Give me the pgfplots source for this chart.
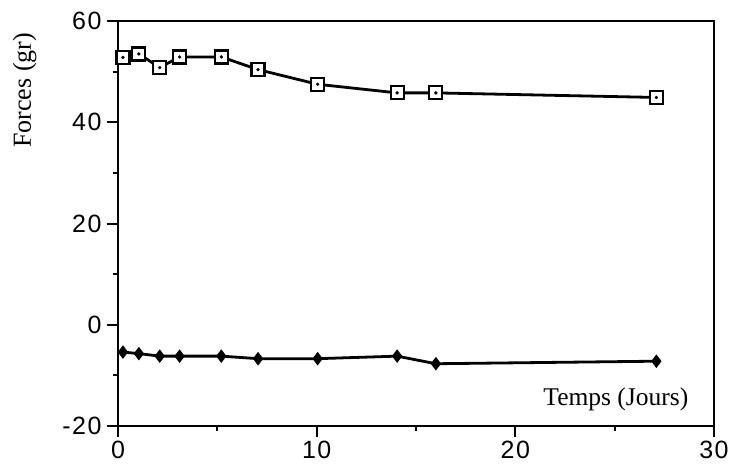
\documentclass[border=0pt]{standalone}
\usepackage{fontspec}
\setmainfont{Liberation Serif}
\newfontfamily\tickfont[LetterSpace=6]{Liberation Sans}
\usepackage{pgfplots}
\pgfplotsset{compat=1.18}
\begin{document}
\begin{tikzpicture}
\useasboundingbox (-118pt,-48pt) rectangle (615pt,426pt);
\begin{axis}[
  scale only axis,
  width=596pt, height=405pt,
  xmin=0, xmax=30, ymin=-20, ymax=60,
  xtick={0,10,20,30}, minor xtick={5,15,25},
  ytick={-20,0,20,40,60}, minor ytick={-10,10,30,50},
  tick align=outside, tick pos=left,
  major tick length=11pt, minor tick length=5pt,
  every tick/.style={black, line width=2pt},
  axis line style={line width=2.4pt},
  /pgf/number format/assume math mode=true,
  tick label style={font=\tickfont\fontsize{25}{28}\selectfont},
  yticklabel style={xshift=-2pt},
  xticklabel style={yshift=-1pt},
  clip=false,
]
\addplot[black, line width=2.8pt, mark=square*, mark size=6.5pt,
  mark options={fill=white, line width=2.2pt}] coordinates {
  (0.25,52.8) (1.05,53.5) (2.1,50.8) (3.1,52.9) (5.2,52.9) (7.05,50.4)
  (10.05,47.5) (14.05,45.8) (16,45.8) (27.1,44.9)};
\addplot[black, only marks, mark=*, mark size=1.5pt, forget plot] coordinates {
  (0.25,52.8) (1.05,53.5) (2.1,50.8) (3.1,52.9) (5.2,52.9) (7.05,50.4)
  (10.05,47.5) (14.05,45.8) (16,45.8) (27.1,44.9)};
\addplot[black, line width=2.8pt, mark=diamond*, mark size=6pt,
  mark options={fill=black, line width=1pt}] coordinates {
  (0.25,-5.4) (1.05,-5.7) (2.1,-6.2) (3.1,-6.2) (5.2,-6.2) (7.05,-6.7)
  (10.05,-6.7) (14.05,-6.2) (16,-7.7) (27.1,-7.2)};
\node[font=\fontsize{25.5}{29}\selectfont] at (axis cs:25.06,-14.7) {Temps (Jours)};
\node[rotate=90, font=\fontsize{26}{30}\selectfont] at (axis cs:-4.7,46.3) {Forces (gr)};
\end{axis}
\end{tikzpicture}
\end{document}
